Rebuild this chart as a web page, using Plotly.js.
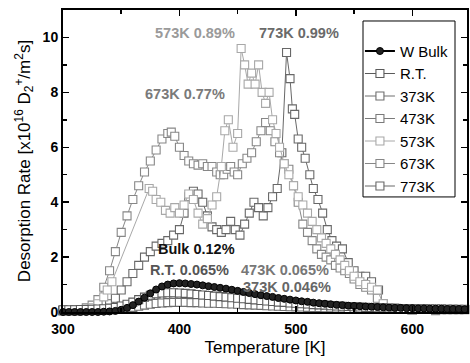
<!DOCTYPE html>
<html>
<head>
<meta charset="utf-8">
<script src="https://cdn.plot.ly/plotly-3.0.1.min.js"></script>
<style>html,body{margin:0;padding:0;background:#fff}#chart{width:470px;height:363px}</style>
</head>
<body>
<div id="chart"></div>
<script>
// ---- Data ----
const tempLow = [300,305,310,315,320,325,330,335,340,345,350,355,360,365,370,375,380,385,390,395,400,405,410,415,420,425,430,435,440,445,450,455,460,465,470,475,480,485,490,495,500,505,510,515,520,525,530,535,540,545,550,555,560,565,570,575,580,585,590,595,600,605,610,615,620,625,630,635,640,645,650];
const rateBulk = [0.00,0.00,0.00,0.00,0.00,0.00,0.00,0.01,0.02,0.04,0.08,0.15,0.25,0.38,0.52,0.68,0.82,0.93,1.00,1.04,1.05,1.04,1.02,1.00,0.97,0.94,0.91,0.88,0.85,0.81,0.77,0.73,0.69,0.65,0.61,0.58,0.55,0.51,0.48,0.45,0.42,0.39,0.37,0.34,0.32,0.30,0.28,0.26,0.25,0.23,0.22,0.21,0.20,0.19,0.18,0.17,0.16,0.15,0.15,0.14,0.14,0.13,0.13,0.12,0.12,0.12,0.11,0.11,0.11,0.10,0.10];
const rateRT = [0.08,0.08,0.08,0.09,0.09,0.10,0.11,0.12,0.14,0.17,0.22,0.28,0.36,0.45,0.54,0.61,0.66,0.69,0.70,0.70,0.69,0.68,0.66,0.64,0.62,0.60,0.58,0.56,0.54,0.52,0.50,0.48,0.46,0.44,0.42,0.40,0.38,0.36,0.35,0.33,0.32,0.30,0.29,0.27,0.26,0.25,0.23,0.22,0.21,0.20,0.19,0.18,0.17,0.16,0.15,0.15,0.14,0.14,0.13,0.13,0.12,0.12,0.12,0.11,0.11,0.11,0.10,0.10,0.10,0.10,0.10];
const rate373 = [0.05,0.05,0.05,0.05,0.06,0.06,0.06,0.07,0.08,0.09,0.11,0.14,0.17,0.21,0.25,0.28,0.31,0.33,0.34,0.35,0.35,0.35,0.34,0.34,0.33,0.32,0.32,0.31,0.30,0.29,0.28,0.27,0.26,0.25,0.24,0.23,0.22,0.21,0.20,0.19,0.19,0.18,0.17,0.16,0.16,0.15,0.15,0.14,0.14,0.13,0.13,0.12,0.12,0.12,0.11,0.11,0.11,0.10,0.10,0.10,0.10,0.09,0.09,0.09,0.09,0.08,0.08,0.08,0.08,0.08,0.08];
const rate473 = [0.06,0.06,0.06,0.07,0.07,0.08,0.08,0.09,0.10,0.12,0.15,0.20,0.26,0.33,0.40,0.46,0.50,0.53,0.55,0.56,0.56,0.55,0.54,0.53,0.52,0.50,0.49,0.47,0.46,0.44,0.43,0.41,0.40,0.38,0.36,0.35,0.33,0.32,0.30,0.29,0.28,0.26,0.25,0.24,0.23,0.22,0.21,0.20,0.19,0.18,0.17,0.16,0.16,0.15,0.14,0.14,0.13,0.13,0.12,0.12,0.12,0.11,0.11,0.11,0.10,0.10,0.10,0.10,0.09,0.09,0.09];

const temp573 = [300,310,320,325,330,335,338,342,374,377,380,384,388,392,396,400,404,408,412,416,420,424,428,432,436,439,442,446,450,453,456,459,462,465,468,471,474,477,480,483,486,490,494,498,502,506,510,514,518,522,526,530,534,538,542,546,550,555,560,565,570,575,580,600,650];
const rate573 = [0.05,0.06,0.1,0.15,0.3,0.55,0.8,1.1,4.5,4.4,4.1,4.0,3.7,3.6,3.8,3.6,3.9,4.3,4.1,3.6,3.2,3.4,3.9,4.2,5.3,6.6,7.0,6.0,6.5,9.6,9.0,8.3,8.7,8.3,9.0,8.0,7.6,8.0,7.0,6.5,6.0,5.4,5.0,4.6,4.2,3.9,3.6,3.3,3.0,2.7,2.5,2.3,2.1,1.9,1.7,1.5,1.3,1.1,1.0,0.9,0.8,0.3,0.1,0.06,0.05];

const temp673 = [300,310,320,325,330,335,340,345,350,355,360,365,370,375,380,385,390,393,396,400,404,408,412,416,420,424,428,432,435,438,441,444,447,450,454,458,462,466,470,474,478,482,486,490,494,498,502,506,510,514,518,522,526,530,534,538,542,546,550,555,560,565,570,580,600,620,650];
const rate673 = [0.05,0.08,0.15,0.25,0.45,0.9,1.5,2.2,2.9,3.5,4.1,4.6,5.1,5.5,5.9,6.3,6.5,6.55,6.4,6.0,5.7,5.5,5.4,5.35,5.4,5.3,5.3,5.1,5.0,5.0,5.2,5.3,5.1,5.0,5.4,5.6,5.8,6.2,6.6,6.9,6.6,6.2,5.8,5.4,5.2,4.6,4.0,3.2,2.9,2.6,2.3,2.1,2.0,1.9,1.7,1.6,1.5,1.4,1.2,1.0,0.9,0.8,0.5,0.1,0.06,0.05,0.05];

const temp773 = [300,310,320,330,340,345,350,355,360,365,370,375,380,385,390,395,400,404,408,412,416,420,424,428,432,436,440,444,448,452,456,460,464,468,472,476,480,484,488,492,495,497,499,502,505,508,512,515,519,523,527,531,535,540,545,550,555,560,565,571,575,580,600,650];
const rate773 = [0.05,0.05,0.08,0.15,0.3,0.5,0.8,1.1,1.4,1.7,2.0,2.2,2.4,2.5,2.6,2.8,3.0,3.6,4.2,4.4,4.3,4.0,3.5,3.1,3.0,2.9,3.0,3.3,3.0,2.8,3.2,3.6,4.0,3.8,3.5,3.8,4.2,4.5,5.8,9.45,8.5,7.4,7.2,6.3,6.0,5.6,5.0,4.5,4.1,3.6,3.0,2.6,2.4,2.3,1.8,1.5,1.3,1.3,1.1,0.8,0.3,0.12,0.07,0.05];

const seriesNames = ['W Bulk','R.T.','373K','473K','573K','673K','773K'];
const noteTexts = ['573K 0.89%','773K 0.99%','673K 0.77%','Bulk 0.12%','R.T. 0.065%','473K 0.065%','373K 0.046%'];
const noteX = [413, 503, 405, 415, 409, 491, 492];
const noteY = [10.18, 10.18, 7.93, 2.29, 1.53, 1.53, 0.92];

// ---- Styles ----
const FONT = 'Liberation Sans, Arial, Helvetica, sans-serif';
const colors = {'R.T.':'#5a5a5a','373K':'#6e6e6e','473K':'#7a7a7a','573K':'#a8a8a8','673K':'#878787','773K':'#686868'};
const noteColors = ['#9a9a9a','#6a6a6a','#7a7a7a','#111111','#555555','#777777','#666666'];

function sq(name, x, y, rank){
  return {type:'scatter', mode:'lines+markers', name:name, x:x, y:y, legendrank:rank,
    cliponaxis:false,
    line:{color:colors[name], width:1},
    marker:{symbol:'square', size:8, color:'#ffffff', line:{color:colors[name], width:1.1}}};
}
const traces = [
  sq('773K', temp773, rate773, 7),
  sq('673K', temp673, rate673, 6),
  sq('573K', temp573, rate573, 5),
  sq('473K', tempLow, rate473, 4),
  sq('373K', tempLow, rate373, 3),
  sq('R.T.', tempLow, rateRT, 2),
  {type:'scatter', mode:'lines+markers', name:'W Bulk', x:tempLow, y:rateBulk, legendrank:1,
   cliponaxis:false,
   line:{color:'#000', width:2},
   marker:{symbol:'circle', size:7, color:'#222', line:{color:'#000', width:1}}}
];

const annotations = noteTexts.map((t,i)=>({
  x:noteX[i], y:noteY[i], xref:'x', yref:'y', text:t, showarrow:false,
  font:{family:FONT, size:14.5, color:noteColors[i], weight:'bold'}
}));

const layout = {
  width:470, height:363,
  margin:{l:63, r:3, t:10, b:51},
  paper_bgcolor:'#fff', plot_bgcolor:'#fff',
  font:{family:FONT, color:'#000'},
  showlegend:true,
  legend:{x:0.735, y:0.918, xanchor:'left', yanchor:'top', bgcolor:'rgba(0,0,0,0)', borderwidth:0,
          font:{family:FONT, size:15, color:'#000'}, traceorder:'normal'},
  xaxis:{range:[300,647], tickmode:'linear', tick0:300, dtick:100,
    showline:true, linecolor:'#000', linewidth:2, mirror:'ticks',
    ticks:'inside', ticklen:6, tickwidth:1.5, tickcolor:'#000', ticklabelstandoff:3,
    minor:{dtick:50, ticks:'inside', ticklen:4, tickwidth:1.5, tickcolor:'#000'},
    showgrid:false, zeroline:false,
    tickfont:{family:FONT, size:14, weight:'bold', color:'#000'},
    title:{text:'Temperature [K]', font:{family:FONT, size:17, color:'#000'}, standoff:5}},
  yaxis:{range:[0,11], tickmode:'linear', tick0:0, dtick:2,
    showline:true, linecolor:'#000', linewidth:2, mirror:'ticks',
    ticks:'inside', ticklen:6, tickwidth:1.5, tickcolor:'#000',
    minor:{dtick:1, ticks:'inside', ticklen:4, tickwidth:1.5, tickcolor:'#000'},
    showgrid:false, zeroline:false,
    tickfont:{family:FONT, size:14, weight:'bold', color:'#000'},
    title:{text:'Desorption Rate [x10<sup>16</sup> D<sub>2</sub><sup>+</sup>/m<sup>2</sup>s]', font:{family:FONT, size:17, color:'#000'}, standoff:8}},
  shapes:[{type:'rect', xref:'paper', yref:'paper', x0:0.7426, x1:0.9703, y0:0.381, y1:0.9636,
    line:{color:'#000', width:1}, fillcolor:'rgba(0,0,0,0)', layer:'above'}],
  annotations:annotations
};

Plotly.newPlot('chart', traces, layout, {displayModeBar:false, staticPlot:true});
</script>
</body>
</html>
